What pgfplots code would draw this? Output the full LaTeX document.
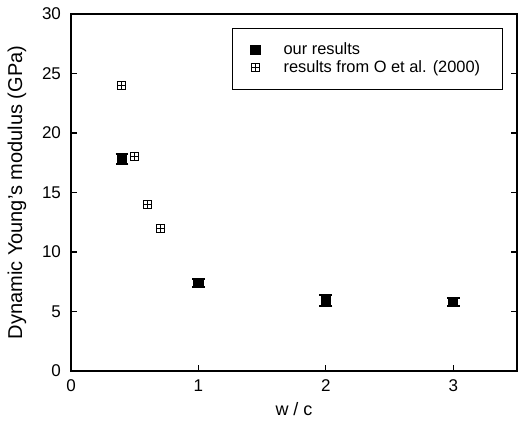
\documentclass[border=0pt]{standalone}
\usepackage{fontspec}
\setmainfont{Liberation Sans}
\usepackage{pgfplots}
\pgfplotsset{compat=1.18}
\pgfdeclareplotmark{sqplus}{%
  \pgfpathrectangle{\pgfqpoint{-\pgfplotmarksize}{-\pgfplotmarksize}}{\pgfqpoint{2\pgfplotmarksize}{2\pgfplotmarksize}}%
  \pgfpathmoveto{\pgfqpoint{-\pgfplotmarksize}{0pt}}\pgfpathlineto{\pgfqpoint{\pgfplotmarksize}{0pt}}%
  \pgfpathmoveto{\pgfqpoint{0pt}{-\pgfplotmarksize}}\pgfpathlineto{\pgfqpoint{0pt}{\pgfplotmarksize}}%
  \pgfusepathqstroke}
\begin{document}
\begin{tikzpicture}
\begin{axis}[
  scale only axis,
  width=223pt, height=178.5pt,
  xmin=0, xmax=3.5, ymin=0, ymax=30,
  xtick={0,1,2,3}, ytick={0,5,...,30},
  tick align=inside,
  xtick pos=bottom,
  ytick pos=both, yticklabel pos=left,
  major tick length=3pt,
  axis line style={line width=0.7pt},
  tick style={line width=0.6pt, black},
  /pgf/number format/assume math mode=true,
  ticklabel style={font=\fontsize{8.5}{10}\selectfont},
  yticklabel style={xshift=-1.5pt},
  xticklabel style={yshift=-1pt},
  xlabel={w / c},
  ylabel={Dynamic Young's modulus (GPa)},
  xlabel style={font=\fontsize{9}{11}\selectfont, yshift=1.5pt},
  ylabel style={font=\fontsize{10}{12}\selectfont, yshift=1pt},
  legend style={at={(0.969,0.961)}, anchor=north east, draw=black, line width=0.6pt,
    font=\fontsize{8.2}{10}\selectfont, inner xsep=9.2pt, inner ysep=5pt,
    row sep=-2.5pt},
  legend cell align=left,
]
\coordinate (bl) at (rel axis cs:0,0);
\coordinate (tr) at (rel axis cs:1,1);
\addplot[only marks, black, mark=square*, mark size=2.3pt, mark options={fill=black, draw=black},
  error bars/.cd, y dir=both, y explicit,
  error mark options={rotate=90, mark size=3.2pt, line width=1pt, black},
  error bar style={line width=1pt, black}]
  coordinates {
  (0.4,17.8) +- (0,0.4)
  (1,7.4) +- (0,0.35)
  (2,5.9) +- (0,0.45)
  (3,5.8) +- (0,0.3)
};
\addlegendentry{\hspace{9.8pt}our results}
\addplot[only marks, black, mark=sqplus, mark size=2pt, mark options={line width=0.5pt}]
  coordinates {
  (0.4,24) (0.5,18) (0.6,14) (0.7,12)
};
\addlegendentry{\hspace{9.8pt}results from O et al. (2000)\hspace{-8pt}}
\end{axis}
\pgfresetboundingbox
\path[use as bounding box] ([shift={(-35.5pt,-24.5pt)}]bl) rectangle ([shift={(7pt,7pt)}]tr);
\end{tikzpicture}
\end{document}
